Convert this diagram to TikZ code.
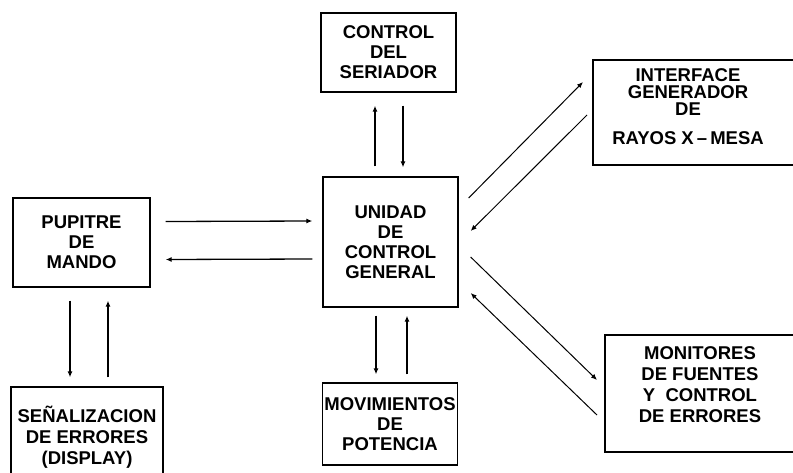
\documentclass[tikz,border=0pt]{standalone}
\usepackage{fontspec}
\setmainfont{Liberation Sans}
\usetikzlibrary{arrows.meta}

\begin{document}
\begin{tikzpicture}[x=1pt,y=-1pt,
    block/.style={draw,line width=1.3pt,align=center,inner sep=0pt,
      font=\fontsize{18.5}{20}\selectfont\bfseries},
    txt/.style={align=center,inner sep=0pt,font=\fontsize{18.5}{20}\selectfont\bfseries},
    pfeil/.style={line width=1.3pt,-{Latex[length=6pt,width=5pt]}},
    schraeg/.style={pfeil,line width=1pt}]
  \useasboundingbox (0,0) rectangle (793,472);
  % Kaesten
  \node[block,minimum width=137,minimum height=89] (pup) at (81.5,242.5)
    {PUPITRE\\DE\\MANDO};
  \node[block,minimum width=152,minimum height=100] (senal) at (87,437)
    {SEÑALIZACION\\[1pt]DE ERRORES\\[1pt](DISPLAY)};
  \node[block,minimum width=135,minimum height=130] (uc) at (390.5,242)
    {UNIDAD\\DE\\CONTROL\\GENERAL};
  \node[block,minimum width=135,minimum height=79] (ctrl) at (388.5,52.5)
    {CONTROL\\DEL\\SERIADOR};
  \node[block,minimum width=135,minimum height=82] (mov) at (390,424)
    {MOVIMIENTOS\\DE\\POTENCIA};
  % rechte Kaesten, am Rand abgeschnitten
  \draw[line width=1.3pt] (820,60) -- (593,60) -- (593,165) -- (820,165);
  \draw[line width=1.3pt] (820,335) -- (605,335) -- (605,452) -- (820,452);
  \coordinate (ib) at (593,112.5);
  \coordinate (mb) at (605,393.5);
  \node[txt] (intf) at (688,107)
    {INTERFACE\\[-3pt]GENERADOR\\[-3pt]DE\\[9pt]RAYOS X\,--\,MESA};
  \node[txt] (mon) at (700,385)
    {MONITORES\\[1pt]DE FUENTES\\[1pt]Y\ \ CONTROL\\[1pt]DE ERRORES};
  % Pfeile waagrecht
  \draw[pfeil] ([shift={(15,-21)}]pup.east) -- ([shift={(-10,-21)}]uc.west);
  \draw[pfeil] ([shift={(-10,17)}]uc.west) -- ([shift={(15,17)}]pup.east);
  % Pfeile senkrecht
  \draw[pfeil] ([shift={(-15.5,-10)}]uc.north) -- ([shift={(-13.5,13)}]ctrl.south);
  \draw[pfeil] ([shift={(14.5,13)}]ctrl.south) -- ([shift={(12.5,-9)}]uc.north);
  \draw[pfeil] ([shift={(-14.5,8)}]uc.south) -- ([shift={(-14,-8)}]mov.north);
  \draw[pfeil] ([shift={(17,-8)}]mov.north) -- ([shift={(16.5,8)}]uc.south);
  \draw[pfeil] ([shift={(-11.5,13)}]pup.south) -- ([shift={(-17,-9)}]senal.north);
  \draw[pfeil] ([shift={(21,-9)}]senal.north) -- ([shift={(26.5,13)}]pup.south);
  % Pfeile schraeg
  \draw[schraeg] ([shift={(10,-44)}]uc.east) -- ([shift={(-10,-30.5)}]ib);
  \draw[schraeg] ([shift={(-6,2.5)}]ib) -- ([shift={(12,-11)}]uc.east);
  \draw[schraeg] ([shift={(12,15)}]uc.east) -- ([shift={(-8,-13.5)}]mb);
  \draw[schraeg] ([shift={(-8,21.5)}]mb) -- ([shift={(12,51)}]uc.east);
\end{tikzpicture}
\end{document}
